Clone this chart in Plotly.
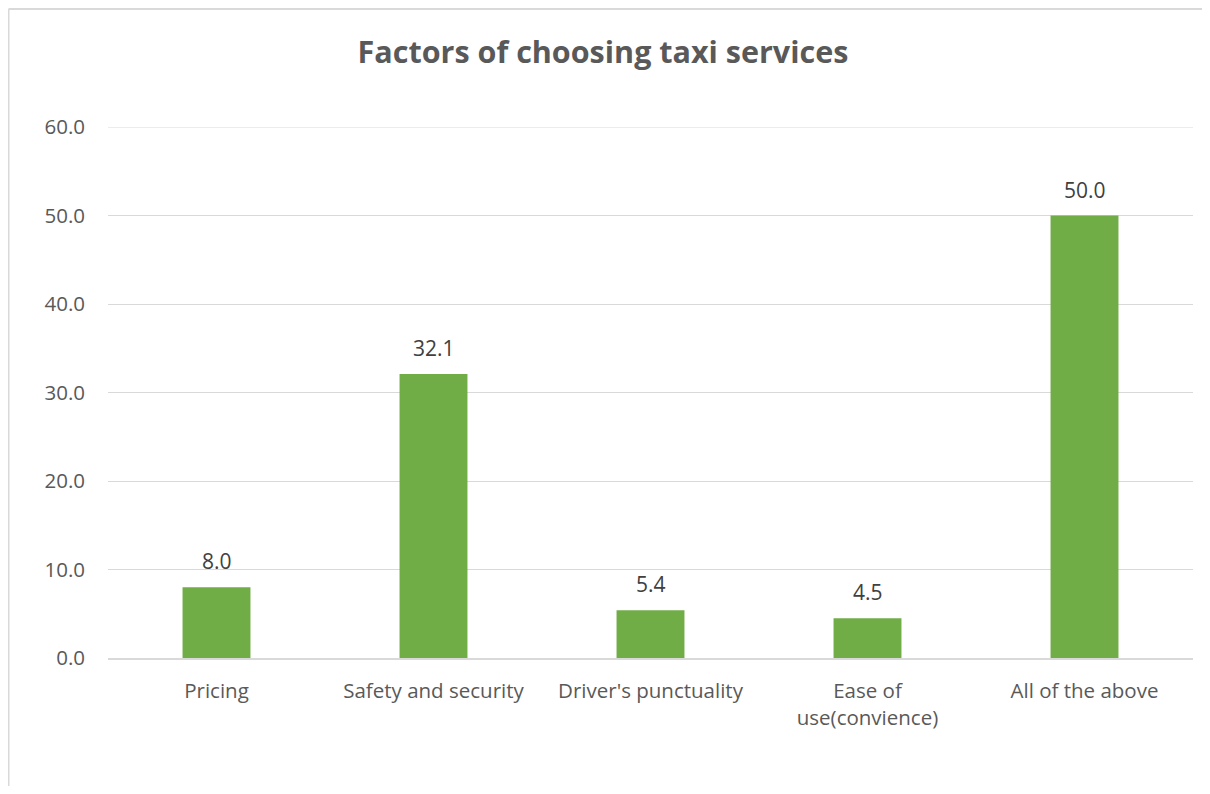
import plotly.graph_objects as go

categories = ["Pricing", "Safety and security", "Driver's punctuality", "Ease of<br>use(convience)", "All of the above"]
values = [8.0, 32.1, 5.4, 4.5, 50.0]
y_ticks = [0, 10, 20, 30, 40, 50, 60]
title = "Factors of choosing taxi services"

# page has an 8px body margin, so the figure is drawn 8px in from the top-left;
# keep it inside the window so no scrollbars appear
W, H = 1194, 778
L, R, T, B = 100, 9, 119, 128
pw, ph = W - L - R, H - T - B
FONT = "Open Sans"

fig = go.Figure(go.Bar(
    x=categories, y=values,
    marker=dict(color="#70ad47", line=dict(width=0)),
    cliponaxis=False,
))

for c, v in zip(categories, values):
    fig.add_annotation(x=c, y=v, text=f"{v:.1f}", showarrow=False,
                       yanchor="bottom", yshift=10,
                       font=dict(family=FONT, size=21, color="#404040"))

# top gridline (plotly omits the one lying exactly on the plot edge)
fig.add_shape(type="line", xref="paper", yref="y", x0=0, x1=1, y0=y_ticks[-1], y1=y_ticks[-1],
              line=dict(color="#d9d9d9", width=1), layer="below")

fig.update_layout(
    width=W, height=H,
    margin=dict(l=L, r=R, t=T, b=B),
    paper_bgcolor="white", plot_bgcolor="white",
    bargap=0.687,
    showlegend=False,
    title=dict(text=f"<b>{title}</b>", x=595 / W, xanchor="center", y=1 - 44 / H, yanchor="middle",
               font=dict(family=FONT, size=30.5, color="#595959")),
    font=dict(family=FONT, color="#595959"),
)
fig.update_yaxes(range=[0, 60], tickvals=y_ticks, tickformat=".1f",
                 showgrid=True, gridcolor="#d9d9d9", gridwidth=1,
                 zeroline=False, showline=False, ticks="",
                 ticklabelstandoff=22,
                 tickfont=dict(family=FONT, size=20.5, color="#595959"))
fig.update_xaxes(showgrid=False, showline=True, linecolor="#d9d9d9", linewidth=1.5,
                 ticks="", ticklabelstandoff=14,
                 tickfont=dict(family=FONT, size=20.5, color="#595959"))

# chart-area border: only the top and left edges are visible in the picture
bx0 = (0.5 - L) / pw
by1 = (H - B - 1) / ph
fig.add_shape(type="line", xref="paper", yref="paper", x0=bx0, x1=(W - L) / pw, y0=by1, y1=by1,
              line=dict(color="#d9d9d9", width=2), layer="below")
fig.add_shape(type="line", xref="paper", yref="paper", x0=bx0, x1=bx0, y0=-B / ph, y1=by1,
              line=dict(color="#d9d9d9", width=2), layer="below")

fig.write_html("out.html")
